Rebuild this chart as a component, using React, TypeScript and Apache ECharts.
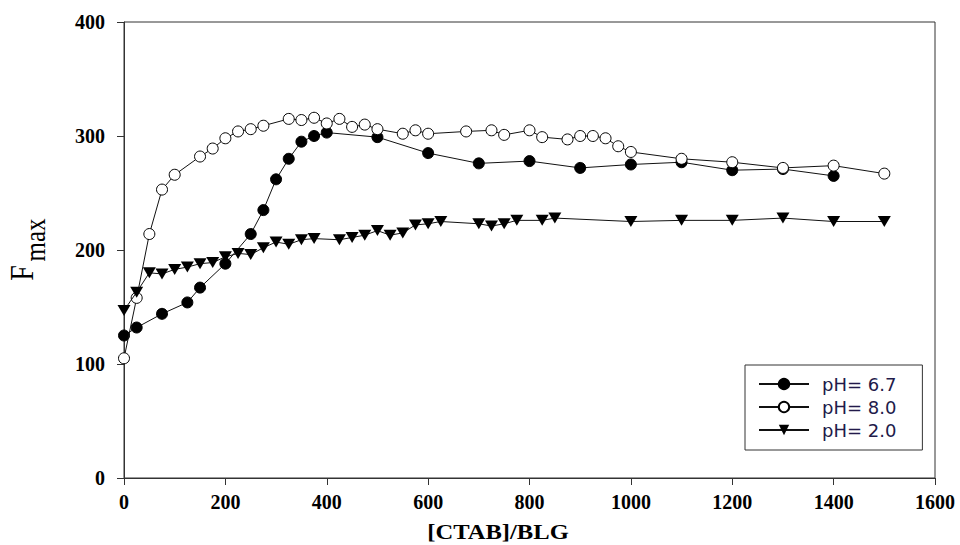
import React, { useEffect, useRef } from "react";
import * as echarts from "echarts";

// X axis (CTAB/BLG) and Y axis (F max) ranges
const xMin = 0;
const xMax = 1600;
const xStep = 200;
const yMin = 0;
const yMax = 400;
const yStep = 100;

const seriesNames = ["pH= 6.7", "pH= 8.0", "pH= 2.0"];

// pH = 6.7 (filled circles)
const ph67X = [0, 25, 75, 125, 150, 200, 250, 275, 300, 325, 350, 375, 400, 500, 600, 700, 800, 900, 1000, 1100, 1200, 1300, 1400];
const ph67Y = [125, 132, 144, 154, 167, 188, 214, 235, 262, 280, 295, 300, 303, 299, 285, 276, 278, 272, 275, 277, 270, 271, 265];

// pH = 8.0 (open circles)
const ph80X = [0, 25, 50, 75, 100, 150, 175, 200, 225, 250, 275, 325, 350, 375, 400, 425, 450, 475, 500, 550, 575, 600, 675, 725, 750, 800, 825, 875, 900, 925, 950, 975, 1000, 1100, 1200, 1300, 1400, 1500];
const ph80Y = [105, 158, 214, 253, 266, 282, 289, 298, 304, 306, 309, 315, 314, 316, 311, 315, 308, 310, 306, 302, 305, 302, 304, 305, 301, 305, 299, 297, 300, 300, 298, 291, 286, 280, 277, 272, 274, 267];

// pH = 2.0 (down triangles)
const ph20X = [0, 25, 50, 75, 100, 125, 150, 175, 200, 225, 250, 275, 300, 325, 350, 375, 425, 450, 475, 500, 525, 550, 575, 600, 625, 700, 725, 750, 775, 825, 850, 1000, 1100, 1200, 1300, 1400, 1500];
const ph20Y = [147, 163, 180, 179, 183, 185, 188, 189, 194, 197, 196, 202, 207, 205, 209, 210, 209, 211, 213, 217, 213, 215, 222, 223, 225, 223, 221, 223, 226, 226, 228, 225, 226, 226, 228, 225, 225];

const zip = (xs: number[], ys: number[]) => xs.map((x, i) => [x, ys[i]]);

const axisColor = "#333";
const lineColor = "#111";
const tickFont = {
  fontFamily: "Liberation Serif",
  fontWeight: "bold" as const,
  fontSize: 20,
  color: "#000",
};

export default function App() {
  const ref = useRef<HTMLDivElement>(null);

  useEffect(() => {
    if (!ref.current) return;
    const chart = echarts.init(ref.current, null, { renderer: "svg" });
    const baseSeries = {
      type: "line" as const,
      lineStyle: { color: lineColor, width: 1 },
      showSymbol: true,
    };
    chart.setOption({
      animation: false,
      backgroundColor: "#fff",
      grid: {
        left: 124,
        right: 25,
        top: 22,
        bottom: 67,
        show: true,
        borderColor: axisColor,
        borderWidth: 1,
        backgroundColor: "transparent",
      },
      xAxis: {
        type: "value",
        min: xMin,
        max: xMax,
        interval: xStep,
        axisLine: { show: true, onZero: false, lineStyle: { color: axisColor, width: 1 } },
        axisTick: { show: true, inside: false, length: 7, lineStyle: { color: axisColor, width: 1 } },
        axisLabel: {
          ...tickFont,
          margin: 14,
          showMaxLabel: true,
          showMinLabel: true,
          formatter: (v: number) => String(v),
        },
        splitLine: { show: false },
      },
      yAxis: {
        type: "value",
        min: yMin,
        max: yMax,
        interval: yStep,
        axisLine: { show: true, onZero: false, lineStyle: { color: axisColor, width: 1 } },
        axisTick: { show: true, inside: false, length: 7, lineStyle: { color: axisColor, width: 1 } },
        axisLabel: { ...tickFont, margin: 19, formatter: (v: number) => String(v) },
        splitLine: { show: false },
      },
      legend: {
        orient: "vertical",
        left: 745,
        top: 365,
        itemWidth: 50,
        itemHeight: 13,
        itemGap: 5,
        padding: [10, 26, 11, 13],
        borderColor: axisColor,
        borderWidth: 1,
        backgroundColor: "#fff",
        textStyle: {
          fontFamily: "DejaVu Sans",
          fontSize: 18,
          color: "#221a4a",
          padding: [0, 0, 0, 8],
        },
        data: seriesNames,
      },
      series: [
        {
          ...baseSeries,
          name: seriesNames[0],
          data: zip(ph67X, ph67Y),
          symbol: "circle",
          symbolSize: 11,
          itemStyle: { color: "#000", borderColor: "#000", borderWidth: 1 },
          z: 2,
        },
        {
          ...baseSeries,
          name: seriesNames[1],
          data: zip(ph80X, ph80Y),
          symbol: "circle",
          symbolSize: 11,
          itemStyle: { color: "#fff", borderColor: "#000", borderWidth: 1 },
          z: 3,
        },
        {
          ...baseSeries,
          name: seriesNames[2],
          data: zip(ph20X, ph20Y),
          symbol: "path://M0,0 L12,0 L6,10 Z",
          symbolSize: [13, 11],
          itemStyle: { color: "#000", borderColor: "#000", borderWidth: 0 },
          z: 4,
        },
      ],
      graphic: [
        {
          type: "text",
          x: 498,
          y: 532,
          scaleX: 1.17,
          style: {
            text: "[CTAB]/BLG",
            fontFamily: "Liberation Serif",
            fontWeight: "bold",
            fontSize: 21,
            fill: "#000",
            align: "center",
            verticalAlign: "middle",
          },
        },
        {
          type: "text",
          x: 22,
          y: 273,
          rotation: Math.PI / 2,
          scaleY: 1.2,
          style: {
            text: "F",
            fontFamily: "Liberation Serif",
            fontSize: 28,
            fill: "#000",
            align: "center",
            verticalAlign: "middle",
          },
        },
        {
          type: "text",
          x: 35,
          y: 240,
          rotation: Math.PI / 2,
          scaleY: 1.2,
          style: {
            text: "max",
            fontFamily: "Liberation Serif",
            fontSize: 25,
            fill: "#000",
            align: "center",
            verticalAlign: "middle",
          },
        },
      ],
    });
    return () => chart.dispose();
  }, []);

  return (
    <div
      ref={ref}
      style={{ position: "fixed", left: 0, top: 0, width: 960, height: 545 }}
    />
  );
}
